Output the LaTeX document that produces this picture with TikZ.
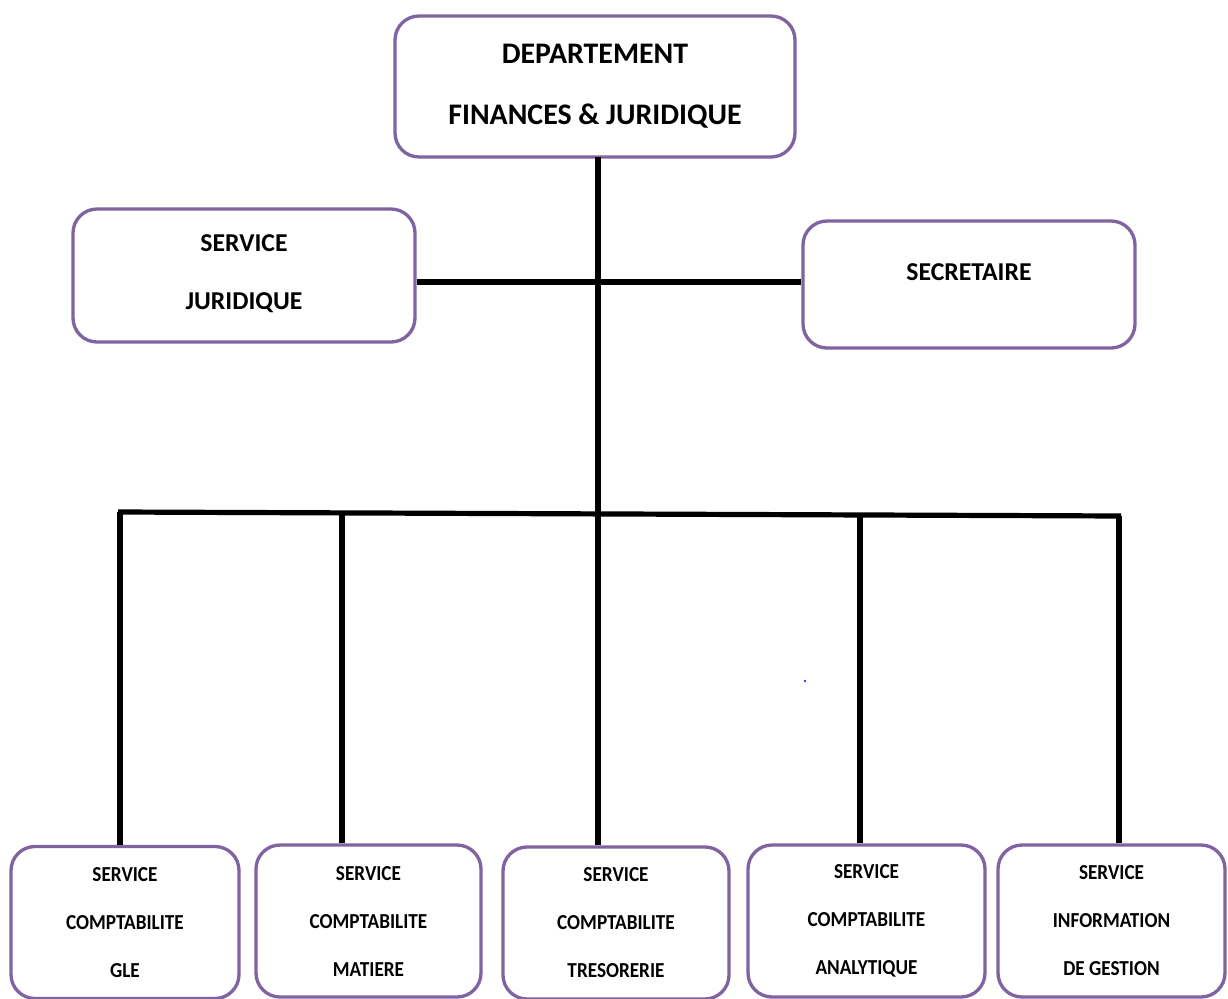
\documentclass[tikz,border=0pt]{standalone}
\usepackage{fontspec}
\setmainfont{Carlito}
\newfontfamily\condfont[FakeStretch=0.9]{Carlito}
\definecolor{boxpurple}{RGB}{128,100,162}
\begin{document}
\begin{tikzpicture}[x=0.75pt,y=-0.75pt,
  box/.style={draw=boxpurple,line width=2.5pt,rounded corners=18pt,fill=white,
    align=center,inner sep=0pt},
  conn/.style={line width=3.9pt,black},
  bigtxt/.style={font=\bfseries\fontsize{22.4}{45.75}\selectfont},
  midtxt/.style={font=\bfseries\fontsize{19.3}{43.5}\selectfont},
  smalltxt/.style={font=\condfont\bfseries\fontsize{16}{36}\selectfont},
]
\useasboundingbox (0,0) rectangle (1228,999);
\coordinate (t0) at (598,157);
\coordinate (h) at (598,282);
\coordinate (busL) at (118,512);
\coordinate (busR) at (1121,516);
\coordinate (d1) at (120,512);
\coordinate (d2) at (342,513);
\coordinate (d4) at (860,515);
\coordinate (d5) at (1119,516);

\node[box,minimum width=300pt,minimum height=105.75pt,bigtxt] (top) at (595,86.5)
  {DEPARTEMENT\\FINANCES \& JURIDIQUE};
\node[box,minimum width=256.5pt,minimum height=99.75pt,midtxt] (sj) at (244,275.5)
  {\raisebox{4.5pt}{SERVICE}\\\raisebox{4.5pt}{JURIDIQUE}};
\node[box,minimum width=249pt,minimum height=95.25pt,midtxt] (sec) at (969,284.5)
  {\raisebox{3.2pt}[0pt][0pt]{SECRETAIRE}};
\node[box,minimum width=171pt,minimum height=114pt,smalltxt] (b1) at (125,922.5)
  {SERVICE\\COMPTABILITE\\GLE};
\node[box,minimum width=168.75pt,minimum height=114pt,smalltxt] (b2) at (368.5,921)
  {SERVICE\\COMPTABILITE\\MATIERE};
\node[box,minimum width=169.5pt,minimum height=114pt,smalltxt] (b3) at (616,923)
  {SERVICE\\COMPTABILITE\\TRESORERIE};
\node[box,minimum width=177.75pt,minimum height=114pt,smalltxt] (b4) at (866.5,921)
  {SERVICE\\COMPTABILITE\\ANALYTIQUE};
\node[box,minimum width=170.25pt,minimum height=114pt,smalltxt] (b5) at (1111.5,921)
  {SERVICE\\INFORMATION\\DE GESTION};

\draw[conn] (t0) -- (t0 |- b3.north);
\draw[conn] (sj.east |- h) -- (sec.west |- h);
\draw[conn] (busL) -- (busR);
\draw[conn] (d1) -- (d1 |- b1.north);
\draw[conn] (d2) -- (d2 |- b2.north);
\draw[conn] (d4) -- (d4 |- b4.north);
\draw[conn] (d5) -- (d5 |- b5.north);
\fill[blue!80] (805,681) circle (1.4);
\end{tikzpicture}
\end{document}
